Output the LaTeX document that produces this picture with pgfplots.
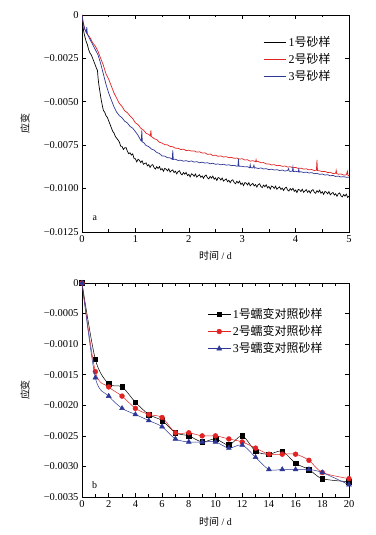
\documentclass[border=0pt]{standalone}
\usepackage{pgfplots}
\pgfplotsset{compat=1.18}
\usepackage{fontspec}
\setmainfont{Liberation Serif}
\newfontfamily\cjk{Noto Sans CJK SC}
\definecolor{myred}{RGB}{225,35,35}
\definecolor{myblue}{RGB}{45,55,150}
\pgfplotsset{
  mystyle/.style={
    scale only axis,
    anchor=south west,
    width=267bp,
    tick align=inside,
    major tick length=4bp,
    minor tick length=2.5bp,
    minor x tick num=1,
    axis line style={line width=0.7pt},
    every tick/.style={black, line width=0.6pt},
    /pgf/number format/assume math mode=true,
    tick label style={font=\fontsize{10.5}{12}\selectfont},
    label style={font=\fontsize{11}{12}\selectfont},
    scaled y ticks=false,
    scaled x ticks=false,
    xlabel={{\cjk 时间} / d},
    ylabel={\cjk 应变},
    every axis y label/.style={at={(axis description cs:-0.213,0.5)}, rotate=90, anchor=center},
    legend cell align=left,
    legend image code/.code={\draw[mark repeat=2,mark phase=2] plot coordinates {(0cm,0cm) (0.4cm,0cm) (0.8cm,0cm)};},
    legend style={draw=none, fill=none, font=\fontsize{12}{13}\selectfont, row sep=1.5pt},
  }
}
\begin{document}
\begin{tikzpicture}
\path[use as bounding box, fill=white] (0,0) rectangle (376bp,535bp);
% ---------- top ----------
\begin{axis}[mystyle,
  at={(82bp,303bp)}, height=217bp,
  xmin=0, xmax=5, ymin=-0.0125, ymax=0,
  xtick={0,1,2,3,4,5},
  ytick={-0.0125,-0.01,-0.0075,-0.005,-0.0025,0},
  yticklabels={−0.0125,−0.0100,−0.0075,−0.0050,−0.0025,0},
  every axis x label/.style={at={(axis description cs:0.5,-0.11)}, anchor=center},
  legend style={at={(0.95,0.92)}, anchor=north east},
]
\addplot[black, line width=0.7pt] coordinates {
(0,0) (0.01,-0.0003) (0.02,-0.0007) (0.035,-0.0010) (0.05,-0.0012) (0.075,-0.0015) (0.1,-0.0017) (0.125,-0.0020) (0.15,-0.0022) (0.175,-0.0023) (0.2,-0.0025) (0.225,-0.0027) (0.25,-0.0029) (0.275,-0.0031) (0.29,-0.0032) (0.3,-0.0036) (0.315,-0.0040) (0.33,-0.0043) (0.345,-0.0046) (0.36,-0.0049) (0.38,-0.0052) (0.4,-0.0055) (0.425,-0.0056) (0.45,-0.0058) (0.475,-0.0059) (0.5,-0.0061) (0.525,-0.0063) (0.55,-0.0065) (0.575,-0.0067) (0.6,-0.0068) (0.625,-0.0070) (0.65,-0.0071) (0.675,-0.0072)
(0.700,-0.00732) (0.725,-0.00756) (0.750,-0.00757) (0.775,-0.00775) (0.800,-0.00765) (0.825,-0.00764) (0.850,-0.00784) (0.875,-0.00799) (0.900,-0.00794) (0.925,-0.00807) (0.950,-0.00800) (0.975,-0.00827) (1.000,-0.00828)
(1.025,-0.00846) (1.050,-0.00831) (1.075,-0.00837) (1.100,-0.00850) (1.125,-0.00840) (1.150,-0.00860) (1.175,-0.00855) (1.200,-0.00852) (1.225,-0.00869) (1.250,-0.00862) (1.275,-0.00878) (1.300,-0.00865) (1.325,-0.00862) (1.350,-0.00879) (1.375,-0.00887) (1.400,-0.00874) (1.425,-0.00884) (1.450,-0.00873) (1.475,-0.00892) (1.500,-0.00885)
(1.525,-0.00900) (1.550,-0.00883) (1.575,-0.00888) (1.600,-0.00898) (1.625,-0.00886) (1.650,-0.00905) (1.675,-0.00897) (1.700,-0.00892) (1.725,-0.00908) (1.750,-0.00900) (1.775,-0.00915) (1.800,-0.00902) (1.825,-0.00897) (1.850,-0.00914) (1.875,-0.00921) (1.900,-0.00907) (1.925,-0.00917) (1.950,-0.00907) (1.975,-0.00925) (2.000,-0.00918)
(2.025,-0.00933) (2.050,-0.00915) (2.075,-0.00919) (2.100,-0.00929) (2.125,-0.00916) (2.150,-0.00934) (2.175,-0.00926) (2.200,-0.00920) (2.225,-0.00935) (2.250,-0.00927) (2.275,-0.00941) (2.300,-0.00927) (2.325,-0.00922) (2.350,-0.00938) (2.375,-0.00944) (2.400,-0.00930) (2.425,-0.00939) (2.450,-0.00928) (2.475,-0.00946) (2.500,-0.00938)
(2.525,-0.00953) (2.550,-0.00936) (2.575,-0.00940) (2.600,-0.00951) (2.625,-0.00939) (2.650,-0.00957) (2.675,-0.00950) (2.700,-0.00944) (2.725,-0.00960) (2.750,-0.00952) (2.775,-0.00966) (2.800,-0.00953) (2.825,-0.00949) (2.850,-0.00965) (2.875,-0.00972) (2.900,-0.00958) (2.925,-0.00968) (2.950,-0.00957) (2.975,-0.00976) (3.000,-0.00968)
(3.025,-0.00983) (3.050,-0.00965) (3.075,-0.00969) (3.100,-0.00979) (3.125,-0.00966) (3.150,-0.00984) (3.175,-0.00976) (3.200,-0.00970) (3.225,-0.00985) (3.250,-0.00977) (3.275,-0.00991) (3.300,-0.00977) (3.325,-0.00972) (3.350,-0.00988) (3.375,-0.00994) (3.400,-0.00980) (3.425,-0.00989) (3.450,-0.00978) (3.475,-0.00996) (3.500,-0.00988)
(3.525,-0.01003) (3.550,-0.00985) (3.575,-0.00989) (3.600,-0.00999) (3.625,-0.00986) (3.650,-0.01004) (3.675,-0.00996) (3.700,-0.00990) (3.725,-0.01005) (3.750,-0.00997) (3.775,-0.01011) (3.800,-0.00997) (3.825,-0.00992) (3.850,-0.01008) (3.875,-0.01014) (3.900,-0.01000) (3.925,-0.01009) (3.950,-0.00998) (3.975,-0.01016) (4.000,-0.01008)
(4.025,-0.01023) (4.050,-0.01004) (4.075,-0.01008) (4.100,-0.01017) (4.125,-0.01004) (4.150,-0.01021) (4.175,-0.01013) (4.200,-0.01006) (4.225,-0.01021) (4.250,-0.01012) (4.275,-0.01026) (4.300,-0.01011) (4.325,-0.01006) (4.350,-0.01021) (4.375,-0.01027) (4.400,-0.01012) (4.425,-0.01021) (4.450,-0.01009) (4.475,-0.01027) (4.500,-0.01018)
(4.525,-0.01033) (4.550,-0.01016) (4.575,-0.01020) (4.600,-0.01030) (4.625,-0.01017) (4.650,-0.01036) (4.675,-0.01028) (4.700,-0.01022) (4.725,-0.01037) (4.750,-0.01030) (4.775,-0.01044) (4.800,-0.01030) (4.825,-0.01025) (4.850,-0.01042) (4.875,-0.01048) (4.900,-0.01034) (4.925,-0.01043) (4.950,-0.01032) (4.975,-0.01051) (5.000,-0.01043)
};
\addlegendentry{1{\cjk 号砂样}}
\addplot[myred, line width=0.7pt] coordinates {
(0,0) (0.02,-0.0004) (0.05,-0.0008) (0.08,-0.0010) (0.1,-0.0011) (0.15,-0.0013) (0.2,-0.0016) (0.25,-0.0018) (0.3,-0.0021) (0.35,-0.0025) (0.4,-0.0029) (0.45,-0.0034) (0.5,-0.0037) (0.55,-0.0041) (0.6,-0.0045) (0.65,-0.0048)
(0.70,-0.00510) (0.75,-0.00527) (0.80,-0.00552) (0.85,-0.00563) (0.90,-0.00582) (0.95,-0.00597) (1.00,-0.00621) (1.05,-0.00632) (1.10,-0.00652) (1.15,-0.00663) (1.20,-0.00681) (1.25,-0.00688) (1.28,-0.00697) (1.29,-0.00665) (1.30,-0.00700) (1.35,-0.00712) (1.40,-0.00718) (1.45,-0.00733) (1.50,-0.00738) (1.55,-0.00747) (1.60,-0.00748) (1.65,-0.00757) (1.70,-0.00759) (1.75,-0.00767) (1.80,-0.00768) (1.85,-0.00775) (1.90,-0.00773) (1.95,-0.00781) (2.00,-0.00779)
(2.05,-0.00784) (2.10,-0.00783) (2.15,-0.00790) (2.20,-0.00788) (2.25,-0.00795) (2.30,-0.00794) (2.35,-0.00803) (2.40,-0.00801) (2.45,-0.00809) (2.50,-0.00808) (2.55,-0.00814) (2.60,-0.00812) (2.65,-0.00818) (2.70,-0.00816) (2.75,-0.00822) (2.80,-0.00820) (2.85,-0.00826) (2.90,-0.00824) (2.95,-0.00830) (3.00,-0.00828)
(3.05,-0.00835) (3.10,-0.00834) (3.15,-0.00842) (3.20,-0.00839) (3.25,-0.00845) (3.26,-0.00833) (3.27,-0.00845) (3.30,-0.00844) (3.35,-0.00851) (3.40,-0.00850) (3.45,-0.00858) (3.50,-0.00858) (3.55,-0.00864) (3.60,-0.00862) (3.65,-0.00868) (3.70,-0.00866) (3.75,-0.00872) (3.80,-0.00870) (3.85,-0.00876) (3.90,-0.00874) (3.95,-0.00880) (4.00,-0.00878)
(4.05,-0.00884) (4.10,-0.00882) (4.15,-0.00888) (4.20,-0.00886) (4.25,-0.00892) (4.30,-0.00890) (4.35,-0.00896) (4.39,-0.00894) (4.40,-0.00835) (4.41,-0.00896) (4.45,-0.00898) (4.50,-0.00902) (4.55,-0.00901) (4.60,-0.00908) (4.65,-0.00906) (4.70,-0.00913) (4.75,-0.00912) (4.76,-0.00895) (4.77,-0.00914) (4.80,-0.00917) (4.85,-0.00916) (4.90,-0.00922) (4.95,-0.00921) (4.97,-0.00900) (4.98,-0.00924) (5.00,-0.00925)
};
\addlegendentry{2{\cjk 号砂样}}
\addplot[myblue, line width=0.7pt] coordinates {
(0,0) (0.02,-0.0004) (0.05,-0.0008) (0.08,-0.0010) (0.09,-0.0007) (0.1,-0.0011) (0.15,-0.0014) (0.2,-0.0017) (0.25,-0.0020) (0.3,-0.0023) (0.35,-0.0028) (0.4,-0.0034) (0.45,-0.0040) (0.5,-0.0045) (0.55,-0.0049) (0.6,-0.0053) (0.65,-0.0056)
(0.70,-0.00580) (0.75,-0.00592) (0.80,-0.00612) (0.85,-0.00622) (0.90,-0.00642) (0.95,-0.00652) (1.00,-0.00672) (1.05,-0.00693) (1.10,-0.00722) (1.11,-0.00725) (1.12,-0.00665) (1.13,-0.00732) (1.15,-0.00733) (1.20,-0.00752) (1.25,-0.00758) (1.30,-0.00772) (1.35,-0.00778) (1.40,-0.00792) (1.45,-0.00798) (1.50,-0.00812) (1.55,-0.00813) (1.60,-0.00822) (1.65,-0.00823) (1.69,-0.00831) (1.70,-0.00780) (1.71,-0.00832) (1.75,-0.00831) (1.80,-0.00838) (1.85,-0.00836) (1.90,-0.00842) (1.95,-0.00839) (2.00,-0.00844)
(2.05,-0.00841) (2.10,-0.00847) (2.15,-0.00845) (2.20,-0.00851) (2.25,-0.00848) (2.30,-0.00853) (2.35,-0.00851) (2.40,-0.00857) (2.45,-0.00854) (2.50,-0.00860) (2.55,-0.00858) (2.60,-0.00863) (2.65,-0.00860) (2.70,-0.00865) (2.75,-0.00863) (2.80,-0.00868) (2.85,-0.00866) (2.90,-0.00871) (2.92,-0.00870) (2.93,-0.00830) (2.94,-0.00871) (3.00,-0.00872)
(3.05,-0.00875) (3.10,-0.00874) (3.14,-0.00880) (3.15,-0.00863) (3.16,-0.00879) (3.20,-0.00881) (3.22,-0.00865) (3.23,-0.00882) (3.25,-0.00880) (3.30,-0.00884) (3.35,-0.00881) (3.40,-0.00887) (3.45,-0.00885) (3.50,-0.00891) (3.55,-0.00888) (3.60,-0.00893) (3.65,-0.00891) (3.70,-0.00896) (3.75,-0.00893) (3.80,-0.00899) (3.85,-0.00896) (3.87,-0.00885) (3.88,-0.00899) (3.90,-0.00901) (3.94,-0.00900) (3.95,-0.00875) (3.96,-0.00902) (4.00,-0.00900)
(4.05,-0.00904) (4.06,-0.00888) (4.07,-0.00905) (4.10,-0.00903) (4.15,-0.00907) (4.20,-0.00905) (4.25,-0.00910) (4.30,-0.00908) (4.35,-0.00914) (4.40,-0.00912) (4.45,-0.00918) (4.50,-0.00916) (4.55,-0.00922) (4.60,-0.00920) (4.65,-0.00926) (4.70,-0.00924) (4.75,-0.00930) (4.80,-0.00928) (4.85,-0.00933) (4.90,-0.00931) (4.95,-0.00935) (5.00,-0.00934)
};
\addlegendentry{3{\cjk 号砂样}}
\node[font=\fontsize{10}{12}\selectfont] at (axis cs:0.24,-0.0117) {a};
\end{axis}
% ---------- bottom ----------
\begin{axis}[mystyle,
  at={(82bp,38bp)}, height=214bp,
  xmin=0, xmax=20, ymin=-0.0035, ymax=0,
  clip mode=individual,
  xtick={0,2,4,6,8,10,12,14,16,18,20},
  ytick={-0.0035,-0.003,-0.0025,-0.002,-0.0015,-0.001,-0.0005,0},
  yticklabels={−0.0035,−0.0030,−0.0025,−0.0020,−0.0015,−0.0010,−0.0005,0},
  every axis x label/.style={at={(axis description cs:0.5,-0.117)}, anchor=center},
  legend style={at={(0.92,0.90)}, anchor=north east},
]
\addplot[black, line width=0.5pt, smooth, mark=square*, mark size=2.3pt, mark options={solid, fill=black}] coordinates {
(0,0) (1,-0.00125) (2,-0.00165) (3,-0.0017) (4,-0.00195) (5,-0.00215) (6,-0.00225) (7,-0.00245) (8,-0.0025) (9,-0.0026) (10,-0.00255) (11,-0.00265) (12,-0.0025) (13,-0.00275) (14,-0.0028) (15,-0.00275) (16,-0.00295) (17,-0.00305) (18,-0.0032) (20,-0.00325)
};
\addlegendentry{1{\cjk 号蠕变对照砂样}}
\addplot[myred, line width=0.5pt, smooth, mark=*, mark size=2.4pt, mark options={solid, fill=myred}] coordinates {
(0,0) (1,-0.00145) (2,-0.0017) (3,-0.00185) (4,-0.00205) (5,-0.00215) (6,-0.0022) (7,-0.00245) (8,-0.00245) (9,-0.0025) (10,-0.0025) (11,-0.00255) (12,-0.0026) (13,-0.0027) (14,-0.0028) (15,-0.0028) (16,-0.0028) (17,-0.0029) (18,-0.0031) (20,-0.0032)
};
\addlegendentry{2{\cjk 号蠕变对照砂样}}
\addplot[myblue, line width=0.5pt, smooth, mark=triangle*, mark size=2.8pt, mark options={solid, fill=myblue}] coordinates {
(0,0) (1,-0.00155) (2,-0.00185) (3,-0.00205) (4,-0.00215) (5,-0.00225) (6,-0.00235) (7,-0.00255) (8,-0.0026) (9,-0.0026) (10,-0.0026) (11,-0.0027) (12,-0.00265) (13,-0.00285) (14,-0.00305) (15,-0.00305) (16,-0.00305) (17,-0.00305) (18,-0.0031) (20,-0.0033)
};
\addlegendentry{3{\cjk 号蠕变对照砂样}}
\node[font=\fontsize{10}{12}\selectfont] at (axis cs:0.95,-0.00331) {b};
\end{axis}
\end{tikzpicture}
\end{document}
